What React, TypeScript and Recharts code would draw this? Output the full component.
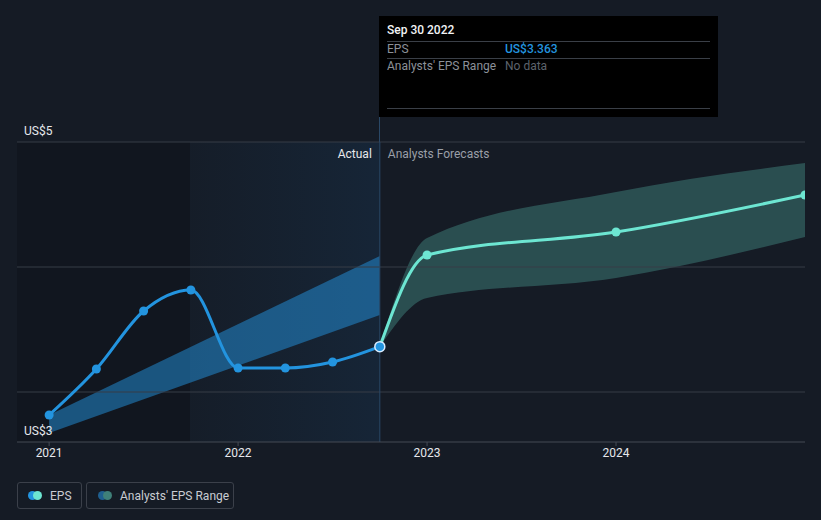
import React from 'react';
import {
  Area,
  ComposedChart,
  Line,
  ReferenceArea,
  ReferenceLine,
  XAxis,
  YAxis,
} from 'recharts';

// quarter ends as year fractions
const pastDates = [2021, 2021.25, 2021.5, 2021.75, 2022, 2022.25, 2022.5, 2022.75];
const pastEps = [2.816, 3.184, 3.648, 3.816, 3.192, 3.192, 3.24, 3.363];

const trendDates = [2021, 2022.75];
const trendLow = [2.672, 3.616];
const trendHigh = [2.816, 4.088];

const forecastDates = [2022.75, 2023, 2024, 2025];
const forecastEps = [3.363, 4.096, 4.28, 4.576];
const forecastLow = [3.363, 3.752, 3.912, 4.24];
const forecastHigh = [3.363, 4.232, 4.6, 4.832];

const yearTicks = [2021, 2022, 2023, 2024];
const gridValues = [3, 4, 5];

const BG = '#151b25';
const BLUE = '#2394df';
const TEAL = '#6de6d2';
const FONT = 'Roboto, "Noto Sans", sans-serif';

type Row = {
  x: number;
  eps?: number;
  trend?: [number, number];
  fc?: number;
  fcRange?: [number, number];
};

function buildRows(): Row[] {
  const xs = Array.from(new Set([...pastDates, ...trendDates, ...forecastDates])).sort((a, b) => a - b);
  return xs.map((x) => {
    const r: Row = { x };
    const i = pastDates.indexOf(x);
    if (i >= 0) r.eps = pastEps[i];
    const t = trendDates.indexOf(x);
    if (t >= 0) r.trend = [trendLow[t], trendHigh[t]];
    const f = forecastDates.indexOf(x);
    if (f >= 0) {
      r.fc = forecastEps[f];
      r.fcRange = [forecastLow[f], forecastHigh[f]];
    }
    return r;
  });
}

const rows = buildRows();

function PastDot(props: any) {
  const { cx, cy, payload } = props;
  if (cx == null || cy == null) return null;
  const last = payload && payload.x === pastDates[pastDates.length - 1];
  return (
    <circle
      cx={cx}
      cy={cy}
      r={last ? 5 : 4.5}
      fill={BLUE}
      stroke={last ? '#d8ecff' : 'none'}
      strokeWidth={last ? 1.5 : 0}
    />
  );
}

function ForecastDot(props: any) {
  const { cx, cy, payload } = props;
  if (cx == null || cy == null) return null;
  if (payload && payload.x === forecastDates[0]) return null;
  return <circle cx={cx} cy={cy} r={4.5} fill={TEAL} />;
}

const dual = (a: string, b: string) => (
  <span style={{ position: 'relative', display: 'inline-block', width: 14, height: 9 }}>
    <span style={{ position: 'absolute', left: 0, top: 0, width: 9, height: 9, borderRadius: 5, background: a }} />
    <span style={{ position: 'absolute', left: 5, top: 0, width: 9, height: 9, borderRadius: 5, background: b }} />
  </span>
);

const legendBox = (left: number, width: number): React.CSSProperties => ({
  position: 'absolute',
  left,
  top: 482,
  width,
  height: 27,
  boxSizing: 'border-box',
  border: '1px solid #3b404a',
  borderRadius: 3,
  display: 'flex',
  alignItems: 'center',
  fontSize: 12,
  color: '#c9ccd2',
  whiteSpace: 'nowrap',
});

export default function App() {
  return (
    <div
      style={{
        position: 'absolute',
        left: 0,
        top: 0,
        width: 821,
        height: 520,
        background: BG,
        fontFamily: FONT,
        overflow: 'hidden',
      }}
    >
      <ComposedChart
        width={821}
        height={520}
        data={rows}
        margin={{ top: 142, right: 16, bottom: 48, left: 17 }}
      >
        <defs>
          <linearGradient id="hl" x1="0" y1="0" x2="1" y2="0">
            <stop offset="0%" stopColor="#1e70b4" stopOpacity={0.05} />
            <stop offset="100%" stopColor="#1e78c8" stopOpacity={0.22} />
          </linearGradient>
        </defs>
        <XAxis
          dataKey="x"
          type="number"
          domain={[2020.83, 2025]}
          allowDataOverflow
          ticks={yearTicks}
          tickFormatter={(v) => String(Math.round(v))}
          height={30}
          tickSize={4}
          axisLine={{ stroke: '#454b55' }}
          tickLine={{ stroke: '#454b55' }}
          tick={{ fill: '#e6e8ec', fontSize: 12, fontFamily: FONT }}
        />
        <YAxis hide type="number" domain={[2.6, 5]} allowDataOverflow />
        <ReferenceArea x1={2020.83} x2={2021.745} y1={2.6} y2={5} fill="#0f131b" fillOpacity={0.55} stroke="none" />
        <ReferenceArea x1={2021.745} x2={2022.75} y1={2.6} y2={5} fill="url(#hl)" stroke="none" />
        {gridValues.map((v) => (
          <ReferenceLine key={v} y={v} stroke="#363c46" strokeWidth={1} />
        ))}
        <ReferenceLine
          y={5}
          stroke="none"
          label={(p: any) => (
            <text x={p.viewBox.x + 7} y={p.viewBox.y - 7} fill="#e6e8ec" fontSize={12} fontFamily={FONT}>
              US$5
            </text>
          )}
        />
        <ReferenceLine
          y={2.6}
          stroke="none"
          label={(p: any) => (
            <text x={p.viewBox.x + 7} y={p.viewBox.y - 7} fill="#e6e8ec" fontSize={12} fontFamily={FONT}>
              US$3
            </text>
          )}
        />
        <ReferenceLine
          x={2022.75}
          stroke="#2a4866"
          strokeWidth={1}
          label={(p: any) => (
            <g>
              <text x={p.viewBox.x - 8} y={p.viewBox.y + 16} fill="#e6e8ec" fontSize={12} fontFamily={FONT} textAnchor="end">
                Actual
              </text>
              <text x={p.viewBox.x + 8} y={p.viewBox.y + 16} fill="#9a9fa8" fontSize={12} fontFamily={FONT}>
                Analysts Forecasts
              </text>
            </g>
          )}
        />
        <Area
          dataKey="trend"
          type="linear"
          stroke="none"
          fill={BLUE}
          fillOpacity={0.5}
          connectNulls
          isAnimationActive={false}
          activeDot={false}
        />
        <Area
          dataKey="fcRange"
          type="monotone"
          stroke="none"
          fill={TEAL}
          fillOpacity={0.25}
          connectNulls
          isAnimationActive={false}
          activeDot={false}
        />
        <Line
          dataKey="fc"
          type="monotone"
          stroke={TEAL}
          strokeWidth={3}
          dot={ForecastDot}
          connectNulls
          isAnimationActive={false}
          activeDot={false}
        />
        <Line
          dataKey="eps"
          type="monotone"
          stroke={BLUE}
          strokeWidth={3}
          dot={PastDot}
          connectNulls
          isAnimationActive={false}
          activeDot={false}
        />
      </ComposedChart>

      {/* divider extension above the plot */}
      <div style={{ position: 'absolute', left: 379, top: 117, width: 1, height: 25, background: '#2a4866' }} />

      {/* static tooltip */}
      <div
        style={{
          position: 'absolute',
          left: 379,
          top: 16,
          width: 339,
          height: 101,
          background: '#000',
          fontSize: 12,
          color: '#8c9199',
        }}
      >
        <div style={{ position: 'absolute', left: 8, top: 7, color: '#f2f3f5', fontWeight: 500 }}>Sep 30 2022</div>
        <div style={{ position: 'absolute', left: 8, right: 8, top: 25, height: 1, background: '#3a3f47' }} />
        <div style={{ position: 'absolute', left: 8, top: 25, height: 16, lineHeight: '16px' }}>EPS</div>
        <div style={{ position: 'absolute', left: 126, top: 25, height: 16, lineHeight: '16px', color: BLUE, fontWeight: 500 }}>
          US$3.363
        </div>
        <div style={{ position: 'absolute', left: 8, right: 8, top: 42, height: 1, background: '#3a3f47' }} />
        <div style={{ position: 'absolute', left: 8, top: 42, height: 16, lineHeight: '16px' }}>Analysts' EPS Range</div>
        <div style={{ position: 'absolute', left: 126, top: 42, height: 16, lineHeight: '16px', color: '#5d636c' }}>No data</div>
        <div style={{ position: 'absolute', left: 8, right: 8, top: 92, height: 1, background: '#3a3f47' }} />
      </div>

      {/* legend */}
      <div style={legendBox(17, 65)}>
        <span style={{ marginLeft: 10, marginRight: 8, display: 'flex' }}>{dual(BLUE, TEAL)}</span>
        EPS
      </div>
      <div style={legendBox(86, 148)}>
        <span style={{ marginLeft: 11, marginRight: 8, display: 'flex' }}>{dual('#1f5f8f', '#3f8079')}</span>
        Analysts' EPS Range
      </div>
    </div>
  );
}
